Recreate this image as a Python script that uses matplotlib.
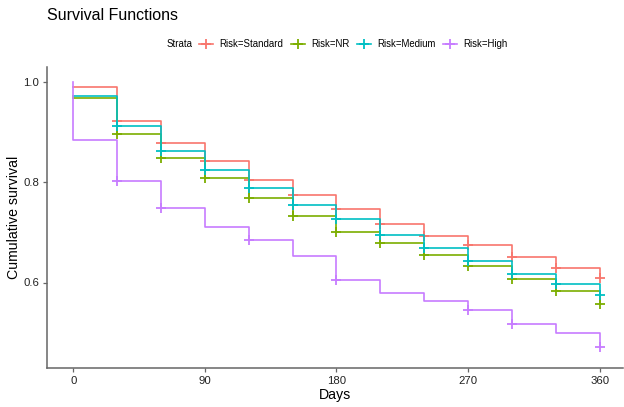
import numpy as np
import matplotlib
matplotlib.use('Agg')
import matplotlib.pyplot as plt
from matplotlib.lines import Line2D

plt.rcParams['font.family'] = ['Liberation Sans', 'DejaVu Sans']

# Step times (days) and survival estimates
times = [0, 30, 60, 90, 120, 150, 180, 210, 240, 270, 300, 330, 360]
strata = ['Risk=Standard', 'Risk=NR', 'Risk=Medium', 'Risk=High']
surv_standard = [0.990, 0.922, 0.878, 0.843, 0.805, 0.774, 0.746, 0.718, 0.694, 0.674, 0.651, 0.629, 0.610]
surv_nr = [0.968, 0.897, 0.849, 0.809, 0.769, 0.733, 0.701, 0.679, 0.654, 0.632, 0.607, 0.583, 0.557]
surv_medium = [0.972, 0.912, 0.863, 0.825, 0.788, 0.754, 0.726, 0.696, 0.669, 0.643, 0.617, 0.597, 0.575]
surv_high = [0.885, 0.802, 0.749, 0.711, 0.684, 0.653, 0.605, 0.579, 0.563, 0.544, 0.516, 0.500, 0.472]
high_start = 1.0  # High stratum has events at day 0

# Censoring times shown with '+'
cens_all = [30, 60, 90, 120, 150, 180, 210, 240, 270, 300, 330, 360]
cens_high = [30, 60, 120, 180, 270, 300, 360]

colors = ['#F8766D', '#7CAE00', '#00BFC4', '#C77CFF']

fig = plt.figure(figsize=(6.24, 4.07), dpi=100)
ax = fig.add_axes([47 / 624, 39 / 407, 576 / 624, 301 / 407])

series = [surv_standard, surv_nr, surv_medium, surv_high]
censors = [cens_all, cens_all, cens_all, cens_high]

for i, (vals, cens) in enumerate(zip(series, censors)):
    t = list(times)
    v = list(vals)
    if strata[i] == 'Risk=High':
        t = [0] + t
        v = [high_start] + v
    ax.step(t, v, where='post', color=colors[i], lw=1.2, zorder=2 + i)
    lookup = dict(zip(times, vals))
    ax.plot(cens, [lookup[c] for c in cens], linestyle='none', marker='+',
            ms=7, mew=1.3, color=colors[i], zorder=2 + i)

ax.set_xlim(-18, 376)
ax.set_ylim(0.429, 1.031)
ax.set_xticks([0, 90, 180, 270, 360])
ax.set_yticks([0.6, 0.8, 1.0])
ax.set_yticklabels(['0.6', '0.8', '1.0'])

for side in ['top', 'right']:
    ax.spines[side].set_visible(False)
for side in ['left', 'bottom']:
    ax.spines[side].set_color('#666666')
    ax.spines[side].set_linewidth(1.1)
ax.tick_params(length=3, width=0.9, color='#666666', labelsize=8.2,
               labelcolor='#222222', pad=2.5)

ax.set_xlabel('Days', fontsize=10.2, labelpad=1.5)
ax.set_ylabel('Cumulative survival', fontsize=10.2, labelpad=1.5)

fig.text(47 / 624, 1 - 15 / 407, 'Survival Functions', fontsize=11.5,
         ha='left', va='center')

# Legend
handles = [Line2D([], [], color=c, marker='+', ms=7, mew=1.3, lw=1.2) for c in colors]
fig.text(193 / 624, 1 - 44 / 407, 'Strata', fontsize=6.9, ha='right', va='center')
fig.legend(handles, strata, loc='center left', bbox_to_anchor=(199 / 624, 1 - 44 / 407),
           ncol=4, frameon=False, fontsize=6.9, handlelength=1.45,
           handletextpad=0.65, columnspacing=0.8, borderpad=0, borderaxespad=0)

fig.savefig('out.png', dpi=100)
